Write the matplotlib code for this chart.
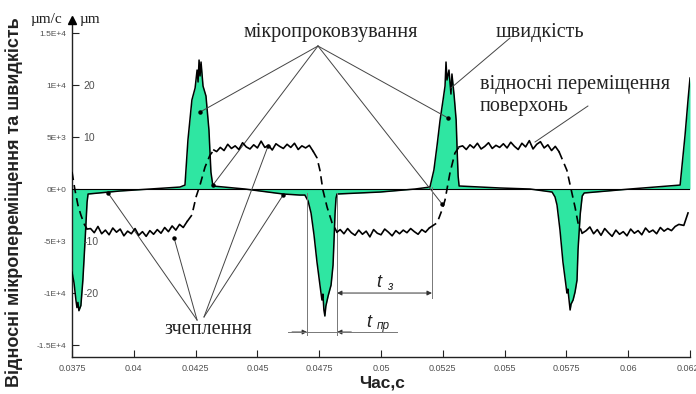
import matplotlib.pyplot as plt

plt.rcParams['font.family'] = ['Liberation Sans', 'DejaVu Sans']
SERIF = ['Liberation Serif', 'DejaVu Serif']

# ---- velocity, um/s ----
vel_t = [0.03750, 0.03758, 0.03766, 0.03770, 0.03774, 0.03778, 0.03786, 0.03794, 0.03803, 0.03811, 0.03815,
         0.03944, 0.04066, 0.04187, 0.04207,
         0.04219, 0.04235, 0.04248, 0.04256, 0.04260, 0.04264, 0.04268, 0.04272, 0.04280, 0.04292, 0.04304, 0.04312, 0.04320,
         0.04450, 0.04604, 0.04672, 0.04692,
         0.04705, 0.04717, 0.04729, 0.04741, 0.04753, 0.04761, 0.04765, 0.04769, 0.04773, 0.04777, 0.04786, 0.04798,
         0.04806, 0.04810, 0.04814, 0.04818, 0.04822,
         0.04996, 0.05138, 0.05198,
         0.05214, 0.05227, 0.05239, 0.05251, 0.05259, 0.05263, 0.05267, 0.05275, 0.05283, 0.05287, 0.05296, 0.05304,
         0.05308, 0.05312, 0.05316,
         0.05481, 0.05603, 0.05692,
         0.05704, 0.05712, 0.05724, 0.05736, 0.05748, 0.05752, 0.05756, 0.05765, 0.05769, 0.05777, 0.05785, 0.05793,
         0.05797, 0.05806, 0.05814, 0.05822,
         0.06007, 0.06210, 0.06230, 0.06242, 0.06250]
vel_v = [-8000, -9000, -10700, -11400, -10900, -11700, -11200, -8750, -4900, -1250, -480,
         -190, 0, 190, 380,
         4710, 8560, 9710, 11440, 10290, 12400, 10870, 12210, 9900, 8940, 5670, 1630, 290,
         0, -480, -580, -580,
         -1150, -2310, -4420, -7020, -9230, -10670, -10100, -11630, -12210, -11250, -10290, -9230,
         -7310, -4900, -2400, -870, -480,
         -290, 0, 190,
         1830, 4230, 6630, 8560, 9900, 12210, 10480, 11440, 9130, 11060, 8940, 6630,
         3750, 1250, 290,
         100, 0, -290,
         -770, -1540, -3940, -7020, -9230, -10000, -9620, -11630, -11060, -10670, -9900, -8750,
         -5870, -2400, -670, -380,
         0, 380, 5190, 8560, 10670]

# ---- relative displacement of surfaces, um ----
disp_t = ([0.03750, 0.03762, 0.03774, 0.03786, 0.03799, 0.03811] +
          [0.03825, 0.03840, 0.03855, 0.03870, 0.03885, 0.03900, 0.03915, 0.03930, 0.03945, 0.03960, 0.03975,
           0.03990, 0.04005, 0.04020, 0.04035, 0.04050, 0.04065, 0.04080, 0.04095, 0.04110, 0.04125, 0.04140,
           0.04155, 0.04170, 0.04185, 0.04200, 0.04215] +
          [0.04235, 0.04252, 0.04268, 0.04288, 0.04308, 0.04324] +
          [0.04335, 0.04350, 0.04365, 0.04380, 0.04395, 0.04410, 0.04425, 0.04440, 0.04455, 0.04470, 0.04485,
           0.04500, 0.04515, 0.04530, 0.04545, 0.04560, 0.04575, 0.04590, 0.04605, 0.04620, 0.04635, 0.04650,
           0.04665, 0.04680, 0.04695, 0.04710, 0.04725] +
          [0.04741, 0.04753, 0.04765, 0.04782, 0.04802, 0.04822] +
          [0.04835, 0.04850, 0.04865, 0.04880, 0.04895, 0.04910, 0.04925, 0.04940, 0.04955, 0.04970, 0.04985,
           0.05000, 0.05015, 0.05030, 0.05045, 0.05060, 0.05075, 0.05090, 0.05105, 0.05120, 0.05135, 0.05150,
           0.05165, 0.05180, 0.05195] +
          [0.05227, 0.05247, 0.05259, 0.05279, 0.05299, 0.05316] +
          [0.05330, 0.05345, 0.05360, 0.05375, 0.05390, 0.05405, 0.05420, 0.05435, 0.05450, 0.05465, 0.05480,
           0.05495, 0.05510, 0.05525, 0.05540, 0.05555, 0.05570, 0.05585, 0.05600, 0.05615, 0.05630, 0.05645,
           0.05660, 0.05675, 0.05690, 0.05705, 0.05720] +
          [0.05752, 0.05765, 0.05785, 0.05797, 0.05814] +
          [0.05830, 0.05845, 0.05860, 0.05875, 0.05890, 0.05905, 0.05920, 0.05935, 0.05950, 0.05965, 0.05980,
           0.05995, 0.06010, 0.06025, 0.06040, 0.06055, 0.06070, 0.06085, 0.06100, 0.06115, 0.06130, 0.06145,
           0.06160, 0.06175, 0.06190, 0.06205] +
          [0.06225, 0.06242])
disp_um = ([3.3, -0.2, -3.1, -5.0, -6.7, -7.7] +
           [-7.6, -8.4, -7.2, -8.6, -7.9, -8.8, -7.5, -8.3, -7.7, -9.0, -8.1, -8.6, -7.6, -8.9, -8.2, -9.1,
            -8.0, -8.7, -7.8, -8.5, -7.4, -8.2, -7.1, -7.9, -6.8, -7.4, -6.3] +
           [-5.0, -1.5, 0.8, 4.2, 6.5, 7.5] +
           [7.2, 8.0, 7.4, 8.6, 7.8, 8.3, 7.6, 8.9, 8.1, 7.7, 8.5, 7.9, 9.2, 8.0, 8.4, 7.5, 8.7, 8.2, 7.8,
            8.6, 8.0, 8.8, 7.6, 8.3, 7.9, 8.4, 7.3] +
           [6.0, 3.6, -0.2, -3.5, -6.5, -8.3] +
           [-7.8, -8.6, -7.6, -8.4, -8.9, -7.9, -8.7, -8.1, -9.2, -7.8, -8.5, -8.8, -7.7, -8.3, -9.0, -8.0,
            -8.6, -7.9, -8.4, -7.6, -8.2, -8.7, -7.8, -8.3, -7.5] +
           [-6.5, -4.0, -2.1, 3.1, 6.9, 8.1] +
           [8.3, 7.6, 8.5, 7.9, 8.8, 7.7, 8.2, 8.9, 7.8, 8.4, 8.0, 8.7, 7.9, 9.0, 8.2, 7.6, 8.8, 8.1, 9.3,
            7.7, 8.6, 9.1, 7.9, 8.5, 7.4, 8.2, 7.2] +
           [3.6, 0.8, -3.5, -6.5, -8.5] +
           [-8.0, -7.3, -8.6, -7.8, -8.9, -7.6, -8.4, -9.1, -7.9, -8.7, -8.2, -9.0, -7.7, -8.5, -8.0, -8.8,
            -7.5, -8.3, -7.9, -8.6, -7.4, -8.1, -7.6, -8.0, -7.2, -6.8] +
           [-7.0, -4.6])
# parts of the displacement curve drawn dashed (fast transitions)
dash_spans = [(0.03750, 0.03811), (0.04215, 0.04324), (0.04725, 0.04822), (0.05195, 0.05316), (0.05720, 0.05814)]

x_ticks = [0.0375, 0.04, 0.0425, 0.045, 0.0475, 0.05, 0.0525, 0.055, 0.0575, 0.06, 0.0625]
x_labels = ['0.0375', '0.04', '0.0425', '0.045', '0.0475', '0.05', '0.0525', '0.055', '0.0575', '0.06', '0.0625']
v_ticks = [-15000, -10000, -5000, 0, 5000, 10000, 15000]
v_labels = ['-1.5E+4', '-1E+4', '-5E+3', '0E+0', '5E+3', '1E+4', '1.5E+4']
um_ticks = [-20, -10, 10, 20]
um_per_v = 1 / 500.0

green = '#2fe6a2'
grey = '#505050'
v_lo, v_hi = -16150, 16250

fig = plt.figure(figsize=(6.96, 3.94), dpi=100)
ax = fig.add_axes([72 / 696, 37 / 394, 618 / 696, 337 / 394])
ax.set_xlim(0.0375, 0.0625)
ax.set_ylim(v_lo, v_hi)
for s in ['top', 'right']:
    ax.spines[s].set_visible(False)
for s in ['left', 'bottom']:
    ax.spines[s].set_linewidth(1.0)
    ax.spines[s].set_color('#222222')

ax.fill_between(vel_t, vel_v, 0, color=green, lw=0, zorder=2)
ax.plot(vel_t, vel_v, color='black', lw=1.1, zorder=4)
ax.axhline(0, color='black', lw=0.8, zorder=3)

ax.set_xticks(x_ticks)
ax.set_xticklabels(x_labels)
ax.set_yticks(v_ticks)
ax.set_yticklabels(v_labels)
ax.tick_params(axis='x', direction='in', length=5, pad=5, labelsize=6.5, labelcolor=grey, color='#222222')
ax.tick_params(axis='y', direction='in', length=5, pad=4, labelsize=6, labelcolor=grey, color='#222222')

# axis arrow
ax.plot([0], [1], marker='^', ms=6, color='black', transform=ax.transAxes, clip_on=False, zorder=6)

# second scale (um) next to the same vertical axis
ax2 = ax.twinx()
ax2.set_ylim(v_lo * um_per_v, v_hi * um_per_v)
for s in ax2.spines.values():
    s.set_visible(False)
ax2.spines['right'].set_position(('axes', 0))
ax2.set_yticks(um_ticks)
ax2.set_yticklabels([str(u) for u in um_ticks])
ax2.tick_params(axis='y', length=0, pad=8, labelsize=7.5, labelcolor=grey)

# displacement: solid plateaus, dashed transitions
def is_dashed(t0, t1):
    return any(a <= t0 and t1 <= b for a, b in dash_spans)

seg_t, seg_u = [disp_t[0]], [disp_um[0]]
cur = is_dashed(disp_t[0], disp_t[1])
for i in range(1, len(disp_t)):
    st = is_dashed(disp_t[i - 1], disp_t[i])
    if st != cur:
        ax2.plot(seg_t, seg_u, color='black', lw=1.2,
                 linestyle=(0, (5, 3)) if cur else '-', zorder=5)
        seg_t, seg_u = [disp_t[i - 1]], [disp_um[i - 1]]
        cur = st
    seg_t.append(disp_t[i])
    seg_u.append(disp_um[i])
ax2.plot(seg_t, seg_u, color='black', lw=1.2, linestyle=(0, (5, 3)) if cur else '-', zorder=5)

# leader lines
line_kw = dict(color='#444444', lw=0.7, zorder=6)
slip_apex = (0.04745, 13750)
slip_ends = [(0.04268, 7400), (0.04320, 380), (0.05271, 6830), (0.05247, -1440)]
for e in slip_ends:
    ax.plot([slip_apex[0], e[0]], [slip_apex[1], e[1]], **line_kw)
    ax.plot(e[0], e[1], 'o', ms=2.2, color='black', zorder=7)
stick_left = (0.04256, -12600)
stick_right = (0.04284, -12300)
for e in [(0.03896, -385), (0.04163, -4710)]:
    ax.plot([stick_left[0], e[0]], [stick_left[1], e[1]], **line_kw)
    ax.plot(e[0], e[1], 'o', ms=2.2, color='black', zorder=7)
for e in [(0.04543, 4130), (0.04604, -580)]:
    ax.plot([stick_right[0], e[0]], [stick_right[1], e[1]], **line_kw)
    ax.plot(e[0], e[1], 'o', ms=2.2, color='black', zorder=7)
ax.plot([0.05522, 0.05283], [14520, 9710], **line_kw)
ax.plot([0.05837, 0.05623], [7980, 4520], **line_kw)

# time intervals t_з, t_пр
t_a, t_b, t_c = 0.04701, 0.04822, 0.05206
ax.plot([t_a, t_a], [-385, -14040], color='#777777', lw=0.7, zorder=6)
ax.plot([t_b, t_b], [-385, -14040], color='#777777', lw=0.7, zorder=6)
ax.plot([t_c, t_c], [190, -10480], color='#777777', lw=0.7, zorder=6)
arr = dict(arrowstyle='<|-|>', color='#333333', lw=0.7, mutation_scale=7, shrinkA=0, shrinkB=0)
ax.annotate('', xy=(t_b, -10000), xytext=(t_c, -10000), arrowprops=arr)
ax.plot([0.04624, 0.05065], [-13750, -13750], color='#777777', lw=0.7, zorder=6)
one = dict(arrowstyle='-|>', color='#333333', lw=0.7, mutation_scale=7, shrinkA=0, shrinkB=0)
ax.annotate('', xy=(t_a, -13750), xytext=(0.04640, -13750), arrowprops=one)
ax.annotate('', xy=(t_b, -13750), xytext=(0.04880, -13750), arrowprops=one)
ax.text(0.04990, -9000, 't', fontsize=13, style='italic', ha='center', va='center', color='#222222')
ax.text(0.05035, -9450, 'з', fontsize=8.5, style='italic', ha='center', va='center', color='#222222')
ax.text(0.04950, -12800, 't', fontsize=13, style='italic', ha='center', va='center', color='#222222')
ax.text(0.05010, -13150, 'пр', fontsize=8.5, style='italic', ha='center', va='center', color='#222222')

# texts
txt = dict(family=SERIF, fontsize=14.5, va='center', color='#222222')
fig.text(331 / 696, 1 - 32 / 394, 'мікропроковзування', ha='center', **txt)
fig.text(540 / 696, 1 - 32 / 394, 'швидкість', ha='center', **txt)
fig.text(480 / 696, 1 - 85 / 394, 'відносні переміщення', ha='left', **txt)
fig.text(480 / 696, 1 - 107 / 394, 'поверхонь', ha='left', **txt)
fig.text(208 / 696, 1 - 330 / 394, 'зчеплення', ha='center', **txt)
fig.text(46 / 696, 1 - 20 / 394, 'µm/с', family=SERIF, fontsize=11, ha='center', va='center', color='#222222')
fig.text(90 / 696, 1 - 20 / 394, 'µm', family=SERIF, fontsize=11, ha='center', va='center', color='#222222')

fig.text(14 / 696, 1 - 202 / 394, 'Відносні мікропереміщення та швидкість', rotation=90,
         fontsize=13, fontweight='bold', ha='center', va='center', color='#222222')
fig.text(382 / 696, 1 - 383 / 394, 'Час,с', fontsize=12.5, fontweight='bold', ha='center', va='center',
         color='#222222')

fig.savefig('out.png', dpi=100)
